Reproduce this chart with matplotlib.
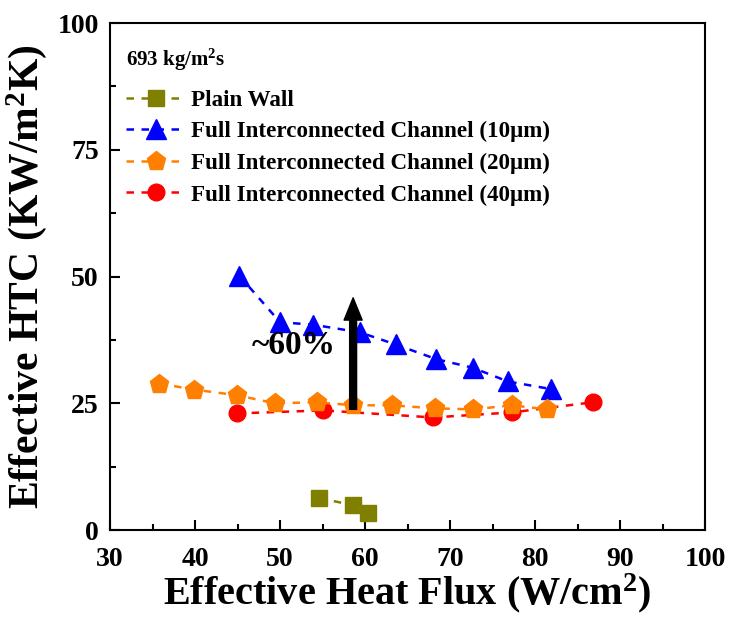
import matplotlib
matplotlib.use("Agg")
import matplotlib.pyplot as plt
from matplotlib.ticker import MultipleLocator

plt.rcParams['font.family'] = ['Liberation Serif', 'DejaVu Serif']
plt.rcParams['font.weight'] = 'bold'
plt.rcParams['mathtext.fontset'] = 'custom'
plt.rcParams['mathtext.rm'] = 'Liberation Serif:bold'
plt.rcParams['mathtext.it'] = 'Liberation Serif:bold'
plt.rcParams['mathtext.bf'] = 'Liberation Serif:bold'

# Data
plain_x = [54.6, 58.6, 60.4]
plain_y = [6.3, 4.9, 3.3]

ch10_x = [45.2, 50.0, 53.9, 59.4, 63.6, 68.4, 72.7, 76.8, 81.9]
ch10_y = [50.2, 41.0, 40.5, 39.0, 36.6, 33.7, 32.0, 29.3, 27.8]

ch20_x = [35.8, 39.9, 44.9, 49.4, 54.4, 58.6, 63.2, 68.2, 72.7, 77.3, 81.4]
ch20_y = [28.9, 27.7, 26.6, 25.0, 25.2, 24.6, 24.6, 24.0, 23.8, 24.6, 23.8]

ch40_x = [44.9, 55.1, 68.0, 77.3, 86.8]
ch40_y = [23.0, 23.6, 22.2, 23.2, 25.2]

labels = ["Plain Wall",
          "Full Interconnected Channel (10\u03bcm)",
          "Full Interconnected Channel (20\u03bcm)",
          "Full Interconnected Channel (40\u03bcm)"]

arrow_x = 58.6
arrow_y0, arrow_y1 = 23.8, 45.8

fig = plt.figure(figsize=(7.3, 6.25), dpi=100)
ax = fig.add_axes([0.1507, 0.152, 0.8151, 0.811])

ls = (0, (3, 3))
ax.plot(plain_x, plain_y, linestyle=ls, color='#808000', marker='s', ms=11, lw=1.8, label=labels[0])
ax.plot(ch10_x, ch10_y, linestyle=ls, color='#0000FF', marker='^', ms=14, lw=1.8, label=labels[1])
ax.plot(ch40_x, ch40_y, linestyle=ls, color='#FF0000', marker='o', ms=12, lw=1.8, label=labels[3], zorder=2)
ax.plot(ch20_x, ch20_y, linestyle=ls, color='#FF8000', marker='p', ms=14, lw=1.8, label=labels[2], zorder=3)

ax.annotate('', xy=(arrow_x, arrow_y1), xytext=(arrow_x, arrow_y0),
            arrowprops=dict(arrowstyle='simple,head_length=1.6,head_width=1.3,tail_width=0.5',
                            color='black', shrinkA=0, shrinkB=0), zorder=5)
ax.text(51.6, 36.4, '~60%', fontsize=24, fontweight='bold', ha='center', va='center')

ax.set_xlim(30, 100)
ax.set_ylim(0, 100)
ax.xaxis.set_major_locator(MultipleLocator(10))
ax.xaxis.set_minor_locator(MultipleLocator(5))
ax.yaxis.set_major_locator(MultipleLocator(25))
ax.yaxis.set_minor_locator(MultipleLocator(12.5))
ax.tick_params(which='both', direction='in', width=1.5, labelsize=20)
ax.tick_params(which='major', length=7)
ax.tick_params(which='minor', length=4)
ax.tick_params(axis='x', pad=12)
ax.tick_params(axis='y', pad=8)
for s in ax.spines.values():
    s.set_linewidth(1.5)
for t in ax.get_xticklabels() + ax.get_yticklabels():
    t.set_fontweight('bold')

ax.set_xlabel('Effective Heat Flux (W/cm$^2$)', fontsize=29, fontweight='bold', labelpad=0)
ax.set_ylabel('Effective HTC (KW/m$^2$K)', fontsize=30, fontweight='bold', labelpad=6)

handles, labs = ax.get_legend_handles_labels()
order = [0, 1, 3, 2]
leg = ax.legend([handles[i] for i in order], [labs[i] for i in order],
                title='693 kg/m$^2$s', loc='upper left', bbox_to_anchor=(0.0, 0.985),
                frameon=False, prop={'size': 16.6, 'weight': 'bold'},
                title_fontproperties={'size': 15, 'weight': 'bold'},
                handlelength=2.6, handletextpad=0.2, labelspacing=0.45, borderaxespad=0.3)
leg._legend_box.align = 'left'
leg._legend_box.sep = 12

fig.savefig('out.png', dpi=100)
